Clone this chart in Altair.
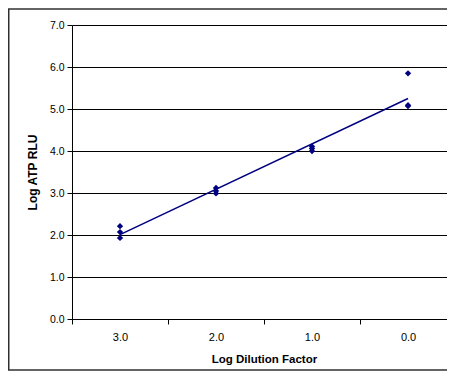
import altair as alt
import pandas as pd

dilution = [3, 3, 3, 2, 2, 2, 1, 1, 1, 0, 0, 0]
log_rlu = [2.21, 2.07, 1.93, 3.12, 3.05, 2.99, 4.11, 4.06, 4.00, 5.85, 5.09, 5.07]
x_tick_values = [3.5, 3, 2.5, 2, 1.5, 1, 0.5, 0]
y_tick_values = [0, 1, 2, 3, 4, 5, 6, 7]

df = pd.DataFrame({"dilution": dilution, "rlu": log_rlu})

FONT = "Liberation Sans"
NAVY = "#000080"

x_enc = alt.X(
    "dilution:Q",
    scale=alt.Scale(domain=[3.5, -0.406], nice=False, zero=False),
    axis=alt.Axis(
        title="Log Dilution Factor",
        values=x_tick_values,
        labelExpr="datum.value % 1 == 0 ? format(datum.value, '.1f') : ''",
        labelOverlap=False,
        labelFontSize=11,
        labelPadding=7,
        tickSize=5,
        tickOpacity=alt.condition("datum.value % 1 != 0", alt.value(1), alt.value(0)),
        grid=False,
        titleFontSize=11.5,
        titleFontWeight="bold",
        titleX=192,
        titleY=40,
        titleBaseline="middle",
    ),
)
y_enc = alt.Y(
    "rlu:Q",
    scale=alt.Scale(domain=[0, 7], nice=False),
    axis=alt.Axis(
        title="Log ATP RLU",
        values=y_tick_values,
        format=".1f",
        labelFontSize=10.5,
        labelPadding=3,
        tickSize=5,
        grid=True,
        gridColor="#000000",
        gridWidth=1,
        titleFontSize=12,
        titleFontWeight="bold",
        titleX=-40,
        titleBaseline="middle",
    ),
)

base = alt.Chart(df)
points = base.mark_point(shape="diamond", filled=True, size=40, color=NAVY, opacity=1).encode(x=x_enc, y=y_enc)
trend = base.transform_regression("dilution", "rlu").mark_line(color=NAVY, strokeWidth=1.5).encode(
    x=alt.X("dilution:Q"), y=alt.Y("rlu:Q")
)
one = alt.Data(values=[{"a": 1}])
frame_style = dict(color="#303030", strokeWidth=1.5)
frame_left = alt.Chart(one).mark_rule(**frame_style).encode(
    x=alt.value(-63.25), y=alt.value(-16), y2=alt.value(345)
)
frame_top = alt.Chart(one).mark_rule(**frame_style).encode(
    x=alt.value(-64), x2=alt.value(380), y=alt.value(-16)
)
frame_bottom = alt.Chart(one).mark_rule(**frame_style).encode(
    x=alt.value(-64), x2=alt.value(380), y=alt.value(345)
)

chart = alt.layer(frame_left, frame_top, frame_bottom, points, trend).properties(
    width=375,
    height=294,
    padding={"left": 64, "top": 17, "right": 0, "bottom": 52},
    autosize=alt.AutoSizeParams(type="none"),
    background="white",
).configure_view(stroke=None).configure_axis(
    labelFont=FONT,
    titleFont=FONT,
    labelColor="#000000",
    titleColor="#000000",
    domainColor="#000000",
    tickColor="#000000",
    domainWidth=1,
    tickWidth=1,
)

chart.save("out.html", embed_options={"renderer": "svg", "actions": False})
